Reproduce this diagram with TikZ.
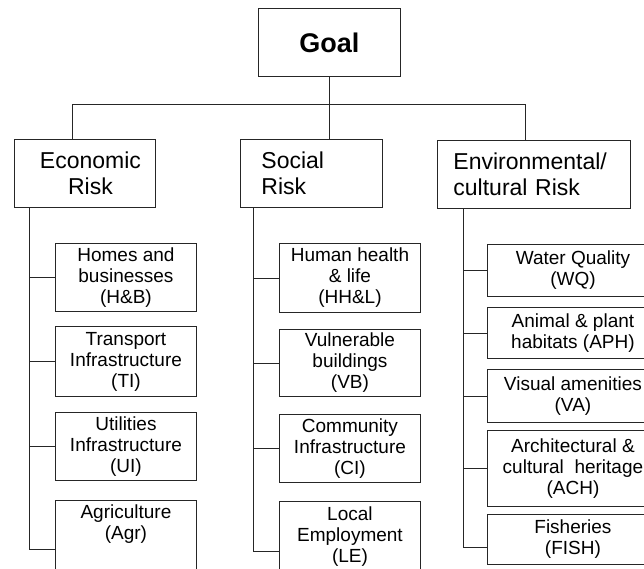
\documentclass[tikz,border=0pt]{standalone}
\usepackage{fontspec}
\setmainfont{Liberation Sans}
\usetikzlibrary{calc}
\begin{document}
\begin{tikzpicture}[x=1pt,y=-1pt,
  box/.style={draw=black!85, line width=0.9pt, inner sep=0pt, anchor=north west, align=center},
  kid/.style={box, font=\fontsize{19}{21}\selectfont, minimum width=141pt},
  envkid/.style={box, font=\fontsize{19}{21}\selectfont, minimum width=171pt},
  head/.style={box, font=\fontsize{23}{25.5}\selectfont, minimum height=68pt},
  link/.style={draw=black!85, line width=0.9pt}]
\useasboundingbox (0,0) rectangle (644,568);
% top
\node[box, minimum width=142pt, minimum height=68pt, font=\fontsize{27}{30}\selectfont\bfseries] (goal) at (258,8) {Goal};
\node[head, minimum width=141pt] (econ) at (14,139) {\hspace*{11pt}Economic\\\hspace*{11pt}Risk};
\node[head, text width=100pt, inner xsep=21pt, align=left] (social) at (240,139) {Social\\Risk};
\node[head, text width=161pt, inner xsep=16pt, align=left] (env) at (437,140) {Environmental/\\cultural Risk};
% economic children
\node[kid, minimum height=68pt] (hb) at (55,243) {Homes and\\businesses\\(H\&B)};
\node[kid, minimum height=70pt] (ti) at (55,326) {Transport\\Infrastructure\\(TI)};
\node[kid, minimum height=68pt] (ui) at (55,412) {Utilities\\Infrastructure\\(UI)};
\node[kid, minimum height=70pt] (agr) at (55,500) {Agriculture\\(Agr)\\\strut};
% social children
\node[kid, minimum height=69pt] (hhl) at (279,243) {Human health\\\& life\\(HH\&L)};
\node[kid, minimum height=67pt] (vb) at (279,329) {Vulnerable\\buildings\\(VB)};
\node[kid, minimum height=68pt] (ci) at (279,414) {Community\\Infrastructure\\(CI)};
\node[kid, minimum height=70pt] (le) at (279,501) {Local\\Employment\\(LE)};
% environmental children
\node[envkid, minimum height=52pt] (wq) at (487,244) {Water Quality\\(WQ)};
\node[envkid, minimum height=51pt] (aph) at (487,307) {Animal \& plant\\habitats (APH)};
\node[envkid, minimum height=53pt] (va) at (487,369) {Visual amenities\\(VA)};
\node[envkid, minimum height=76pt] (ach) at (487,430) {Architectural \&\\cultural\ \ heritage\\(ACH)};
\node[envkid, minimum height=50pt] (fish) at (487,514) {Fisheries\\(FISH)};
% connectors top
\coordinate (busL) at (72,104);
\coordinate (busR) at (525,104);
\draw[link] (goal.south) -- (goal.south |- social.north);
\draw[link] (busL |- econ.north) -- (busL) -- (busR) -- (busR |- env.north);
% trunks
\coordinate (et) at (29,0);
\coordinate (st) at (253,0);
\coordinate (vt) at (463,0);
\coordinate (agrj) at ($(agr.west)+(0,14)$);
\coordinate (lej) at ($(le.west)+(0,15)$);
\coordinate (fishj) at ($(fish.west)+(0,8)$);
\draw[link] (et |- econ.south) -- (et |- agrj) -- (agrj);
\draw[link] (st |- social.south) -- (st |- lej) -- (lej);
\draw[link] (vt |- env.south) -- (vt |- fishj) -- (fishj);
\foreach \n in {hb,ti,ui} \draw[link] (et |- \n.west) -- (\n.west);
\foreach \n in {hhl,vb,ci} \draw[link] (st |- \n.west) -- (\n.west);
\foreach \n in {wq,aph,va,ach} \draw[link] (vt |- \n.west) -- (\n.west);
\end{tikzpicture}
\end{document}
